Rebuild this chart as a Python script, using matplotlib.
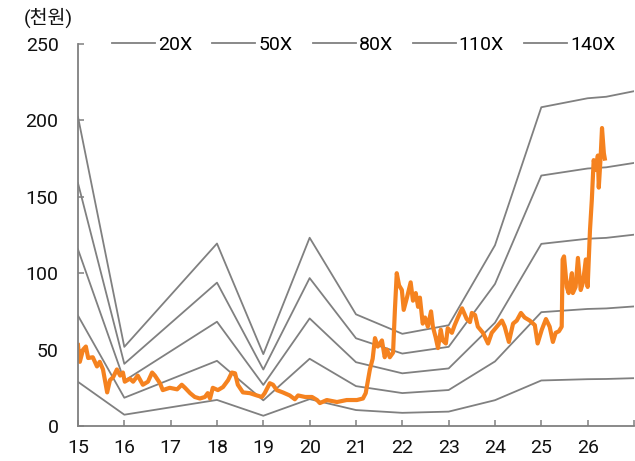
import numpy as np
import matplotlib.pyplot as plt

plt.rcParams['font.family'] = ['Roboto', 'Noto Sans CJK KR', 'DejaVu Sans']

# PER 밴드용 EPS (천원)
eps_year = [15, 16, 18, 19, 20, 21, 22, 23, 24, 25, 26, 26.4, 27]
eps = [1.445, 0.37, 0.853, 0.336, 0.88, 0.522, 0.431, 0.471, 0.845, 1.49, 1.532, 1.539, 1.565]
multiples = [20, 50, 80, 110, 140]

# 주가 (천원)
price_year = [15.00, 15.04, 15.11, 15.17, 15.22, 15.32, 15.41, 15.47, 15.54, 15.63,
              15.69, 15.76, 15.84, 15.91, 15.97, 16.01, 16.12, 16.19, 16.29, 16.40,
              16.51, 16.60, 16.66, 16.77, 16.83, 16.98, 17.14, 17.24, 17.31, 17.42,
              17.52, 17.63, 17.74, 17.80, 17.85, 17.91, 18.02, 18.13, 18.24, 18.32,
              18.39, 18.45, 18.56, 18.71, 18.86, 18.97, 19.03, 19.14, 19.21, 19.29,
              19.42, 19.57, 19.68, 19.75, 19.90, 20.05, 20.16, 20.22, 20.37, 20.59,
              20.80, 21.02, 21.15, 21.21, 21.26, 21.30, 21.36, 21.41, 21.47, 21.56,
              21.62, 21.67, 21.73, 21.80, 21.84, 21.88, 21.93, 21.99, 22.03, 22.10,
              22.18, 22.23, 22.29, 22.34, 22.38, 22.44, 22.49, 22.55, 22.62, 22.66,
              22.72, 22.77, 22.83, 22.87, 22.94, 22.98, 23.07, 23.13, 23.20, 23.29,
              23.39, 23.46, 23.50, 23.57, 23.63, 23.74, 23.85, 23.93, 24.04, 24.15,
              24.21, 24.30, 24.39, 24.47, 24.56, 24.64, 24.75, 24.86, 24.92, 25.01,
              25.10, 25.18, 25.25, 25.31, 25.38, 25.44, 25.46, 25.49, 25.55, 25.59,
              25.66, 25.68, 25.74, 25.79, 25.85, 25.90, 25.96, 26.00, 26.05, 26.09,
              26.13, 26.18, 26.22, 26.24, 26.28, 26.31, 26.35, 26.37]
price = [53, 42, 50, 52, 44.5, 45, 39, 42, 37, 22,
         30, 32, 37, 33, 35, 29, 31, 29, 33, 27,
         29, 35, 33, 28, 23.5, 25, 24, 27, 25, 21.5,
         19, 18, 19, 21.5, 18, 25, 23.5, 25.5, 30, 35,
         34.5, 27, 22, 21.5, 20, 19, 21.5, 28, 27, 23.5,
         22, 20, 17.5, 20, 19, 19, 17, 15, 17, 15.7,
         17, 17, 18, 21.5, 30, 37, 44, 57.5, 52, 56,
         45, 50, 45, 48, 76, 100, 92, 89, 76, 84,
         94, 82, 87, 78, 84, 67, 71, 65, 75, 65,
         58, 51, 63, 56, 54, 64, 61, 66, 71, 77,
         70, 68, 74, 72.6, 65, 61, 54, 61, 65, 69,
         65, 55, 67, 69, 74, 71, 69, 66, 54, 63,
         70, 65, 55, 61, 62, 65, 109, 111, 91, 87,
         100, 87, 91, 110, 89, 94, 109, 91, 128, 148,
         174, 167.5, 177, 156, 176, 195, 178.5, 175]

gray = '#808080'
orange = '#F5821F'

fig = plt.figure(figsize=(6.35, 4.61), dpi=100)
ax = fig.add_axes([0.1228, 0.0759, 0.8756, 0.8287])

for m in multiples:
    ax.plot(eps_year, np.array(eps) * m, color=gray, lw=1.3, label=f'{m}X')
ax.plot(price_year, price, color=orange, lw=3.0, solid_joinstyle='round')

ax.set_xlim(15, 27)
ax.set_ylim(0, 250)
ax.set_xticks(range(15, 28))
ax.set_xticklabels([str(y) for y in range(15, 27)] + [''])
ax.set_yticks(range(0, 251, 50))

for s in ['top', 'right']:
    ax.spines[s].set_visible(False)
for s in ['left', 'bottom']:
    ax.spines[s].set_color(gray)
    ax.spines[s].set_linewidth(1.3)
ax.tick_params(axis='both', direction='in', length=4, width=1.1, color=gray,
               labelsize=14, colors='#111111')
ax.tick_params(axis='x', pad=9)
ax.tick_params(axis='y', pad=14)
ax.tick_params(axis='both', color=gray)

leg = ax.legend(loc='center', bbox_to_anchor=(0.514, 0.997), ncol=5, frameon=False,
                fontsize=14, handlelength=2.2, handletextpad=0.15, columnspacing=1.05)

fig.text(0.076, 0.962, '(천원)', ha='center', va='center', fontsize=14, color='#111111')

fig.savefig('out.png', dpi=100)
